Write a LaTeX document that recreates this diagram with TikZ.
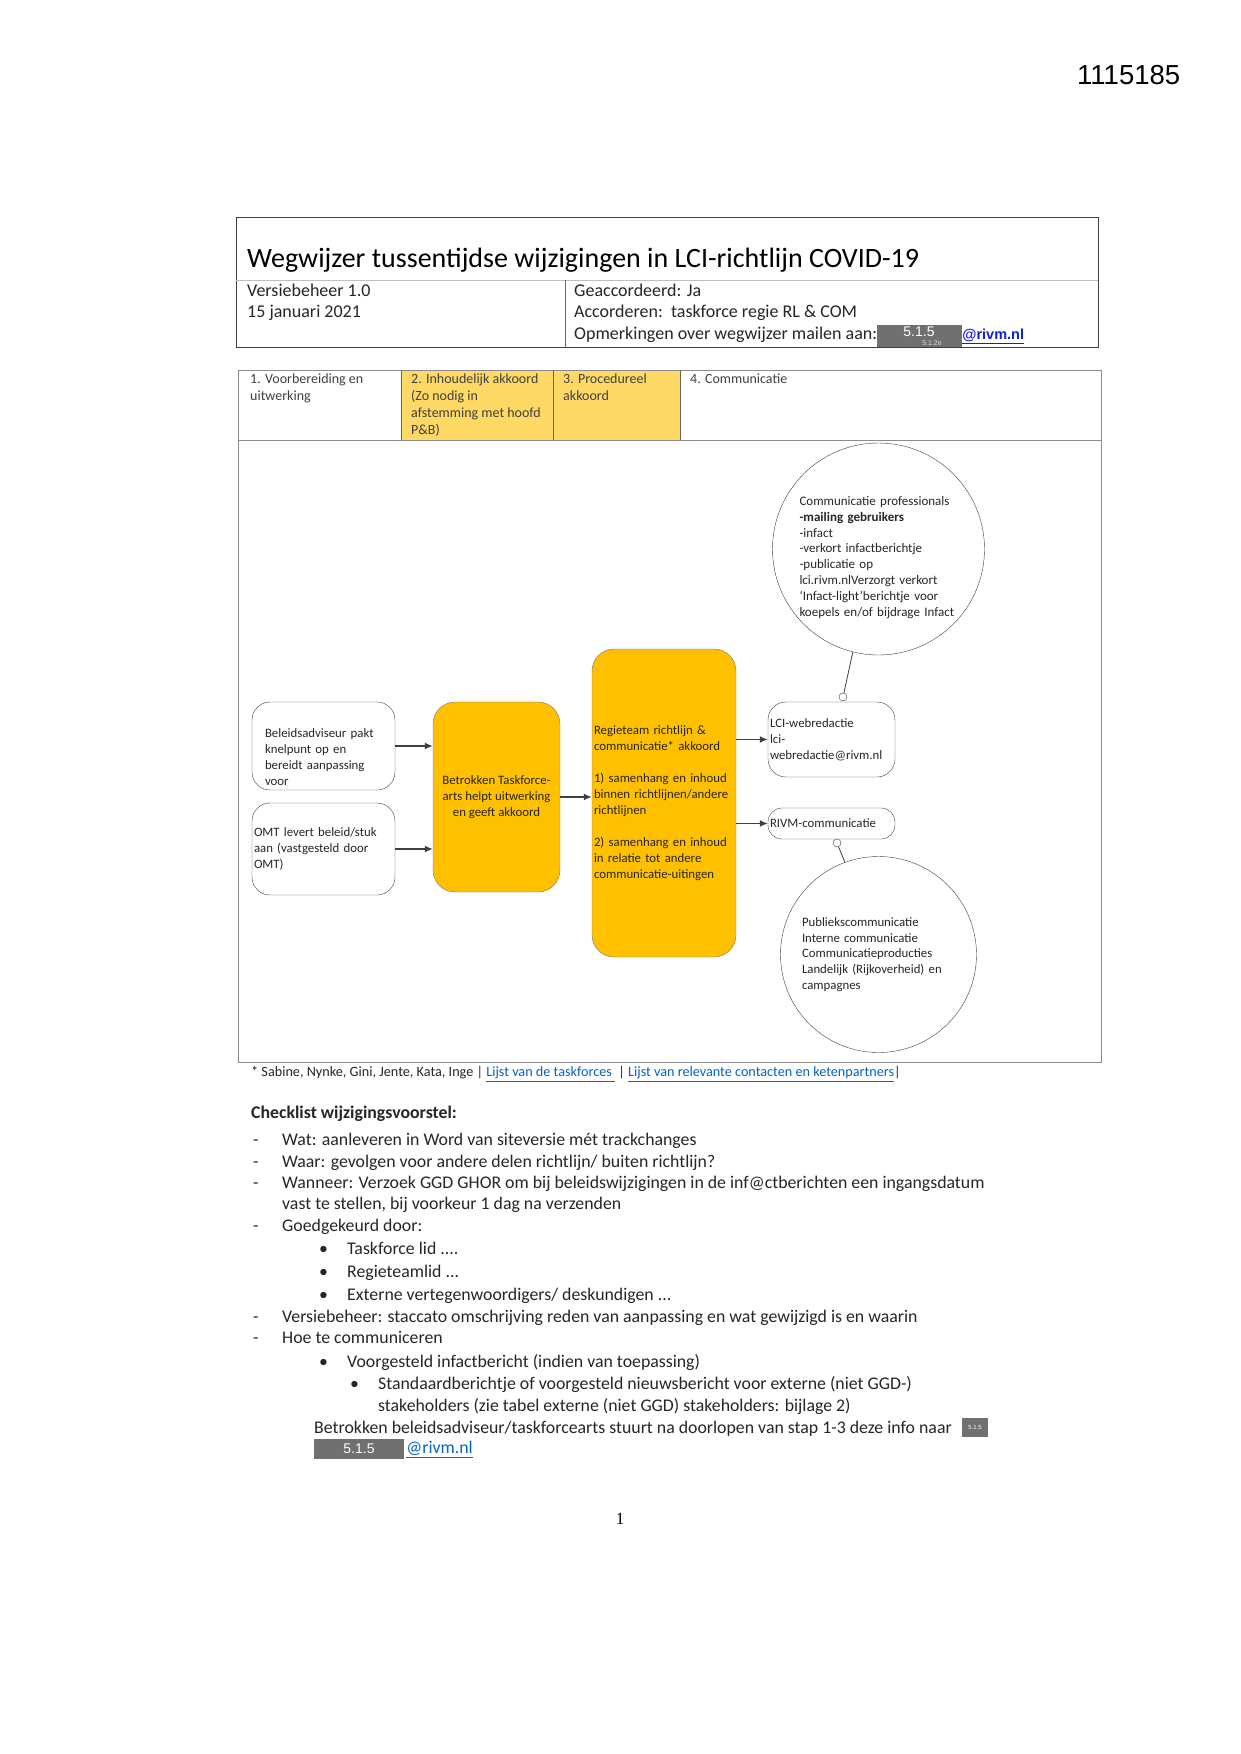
\documentclass[tikz,border=0pt]{standalone}
\usepackage{fontspec}
\setmainfont{Carlito}
\newfontfamily\arialfont{Liberation Sans}
\newfontfamily\paginafont{Liberation Serif}
\usepackage{tikz}
\usetikzlibrary{arrows.meta, positioning, calc}
\definecolor{kopgeel}{HTML}{FFD966}
\definecolor{stapgeel}{HTML}{FFC000}
\definecolor{lijngrijs}{HTML}{404040}
\definecolor{zwartgrijs}{HTML}{707070}
\definecolor{linkblauw}{HTML}{0563C1}
\definecolor{mailblauw}{HTML}{1020D0}

\begin{document}
\begin{tikzpicture}[x=1pt, y=-1pt,
    txt/.style={inner sep=0pt, anchor=west, align=left, text=black!85},
    kop/.style={txt, text height=1.1em, text depth=0.12em, font=\fontsize{18}{22}\selectfont},
    cel/.style={inner sep=0pt, anchor=north west, align=left, text=black!75, font=\fontsize{14}{17}\selectfont},
    lijst/.style={txt, text height=1.1em, text depth=0.12em, font=\fontsize{17.8}{22}\selectfont},
    wit/.style={draw=lijngrijs, rounded corners=18pt, fill=white, align=left, inner xsep=0pt, text=black!85, font=\fontsize{12.8}{16}\selectfont},
    geel/.style={draw=lijngrijs!70, rounded corners=22pt, fill=stapgeel, inner xsep=0pt, text=black!85, font=\fontsize{12.8}{16}\selectfont},
    bol/.style={draw=lijngrijs, circle, inner sep=0pt, align=left, text=black!85, font=\fontsize{13}{15.8}\selectfont},
    dot/.style={draw=lijngrijs, circle, fill=white, minimum size=8pt, inner sep=0pt},
    pijl/.style={-{Latex[length=8pt, width=7pt]}, line width=1.4pt, draw=lijngrijs},
    verbind/.style={line width=0.8pt, draw=lijngrijs},
    zwart/.style={fill=zwartgrijs, text=white, inner sep=0pt, font=\arialfont\fontsize{14}{16}\selectfont},
    link/.style={txt, text=linkblauw}
]
\path[use as bounding box, fill=white] (0,0) rectangle (1241,1754);

\node[txt, text=black, font=\arialfont\fontsize{27.5}{30}\selectfont] (docnr) at (1077,75) {1115185};

\draw[draw=lijngrijs, line width=1pt] (236,217) rectangle (1098,347);
\draw[draw=black!25] (236,280) -- (1098,280);
\draw[draw=lijngrijs!80] (565,280) -- (565,347);
\node[txt, text=black, font=\fontsize{28}{32}\selectfont] (titel) at (247,260) {Wegwijzer tussentijdse wijzigingen in LCI-richtlijn COVID-19};
\node[kop] (versie) at (247,292) {Versiebeheer 1.0};
\node[kop] (datum) at (247,313) {15 januari 2021};
\node[kop] (geacc) at (574,292) {Geaccordeerd: Ja};
\node[kop] (accord) at (574,313) {Accorderen:\ \ taskforce regie RL \& COM};
\node[kop] (opm) at (574,335) {Opmerkingen over wegwijzer mailen aan:};
\node[zwart, minimum width=85pt, minimum height=22pt] (zwart1) at (919.5,336) {};
\node[zwart, fill=none] (nr1) at (919,332) {5.1.5};
\node[zwart, fill=none, text=white!85!black, font=\arialfont\fontsize{7}{8}\selectfont] (nr1b) at (932,343) {5.1.2e};
\node[txt, right=0pt of zwart1, text=mailblauw, font=\arialfont\bfseries\fontsize{14.5}{16}\selectfont] (mail1) {\underline{@rivm.nl}};

\fill[kopgeel] (401,370) rectangle (680,440);
\draw[draw=black!45, line width=1pt] (238,370) rectangle (1101,1062);
\draw[draw=black!45] (238,440) -- (1101,440);
\foreach \x in {401,553,680} \draw[draw=lijngrijs!80] (\x,370) -- (\x,440);
\node[cel] (stap1) at (250,374) {1. Voorbereiding en\\uitwerking};
\node[cel] (stap2) at (411,374) {2. Inhoudelijk akkoord\\(Zo nodig in\\afstemming met hoofd\\P\&B)};
\node[cel] (stap3) at (563,374) {3. Procedureel\\akkoord};
\node[cel] (stap4) at (690,374) {4. Communicatie};

\node[wit, minimum width=143pt, minimum height=88pt, text width=117pt] (bel) at (323.5,746) {\rule{0pt}{31pt}Beleidsadviseur pakt\\knelpunt op en\\bereidt aanpassing\\voor};
\node[wit, minimum width=143pt, minimum height=92pt, text width=139pt] (omt) at (323.5,849) {OMT levert beleid/stuk\\aan (vastgesteld door\\OMT)};
\node[geel, minimum width=127pt, minimum height=190pt, align=center] (betr) at (496.5,797) {Betrokken Taskforce-\\arts helpt uitwerking\\en geeft akkoord};
\node[geel, minimum width=144pt, minimum height=308pt, text width=140pt, align=left] (regie) at (664,803) {Regieteam richtlijn \&\\communicatie* akkoord\\[16pt]1) samenhang en inhoud\\binnen richtlijnen/andere\\richtlijnen\\[16pt]2) samenhang en inhoud\\in relatie tot andere\\communicatie-uitingen};
\node[wit, minimum width=127pt, minimum height=75pt, text width=123pt] (lci) at (831.5,739.5) {LCI-webredactie\\lci-\\webredactie@rivm.nl};
\node[wit, rounded corners=14pt, minimum width=127pt, minimum height=31pt, text width=123pt] (rivm) at (831.5,823.5) {RIVM-communicatie};
\node[bol, minimum size=212pt, text width=158pt] (profs) at (878.5,549) {\rule{0pt}{26pt}Communicatie professionals\\\textbf{-mailing gebruikers}\\-infact\\-verkort infactberichtje\\-publicatie op\\lci.rivm.nlVerzorgt verkort\\‘Infact-light’berichtje voor\\koepels en/of bijdrage Infact};
\node[bol, minimum size=196pt, text width=153pt, font=\fontsize{12.8}{15.8}\selectfont] (publiek) at (878.5,954.5) {Publiekscommunicatie\\Interne communicatie\\Communicatieproducties\\Landelijk (Rijkoverheid) en\\campagnes};

\foreach \a/\b in {bel/betr, omt/betr, betr/regie}
  \draw[pijl] (\a.east) -- (\a.east -| \b.west);
\foreach \a/\b in {regie/lci, regie/rivm}
  \draw[pijl] (\b.west -| \a.east) -- (\b.west);

\node[dot] (lcidot) at (843,697) {};
\node[dot] (rivmdot) at (837,843) {};
\draw[verbind] (profs.256) -- (lcidot);
\draw[verbind] (rivmdot) -- (publiek.110);

\node[txt, font=\fontsize{14.2}{16}\selectfont] (voet) at (251,1074) {* Sabine, Nynke, Gini, Jente, Kata, Inge | \textcolor{linkblauw}{\underline{Lijst van de taskforces }} | \textcolor{linkblauw}{\underline{Lijst van relevante contacten en ketenpartners}}|};

\node[lijst, font=\bfseries\fontsize{17.8}{22}\selectfont] (check) at (251,1114) {Checklist wijzigingsvoorstel:};
\foreach \y in {1141,1163,1184,1227,1318,1339}
  \node[lijst] (streep\y) at (253,\y) {-};
\foreach \x/\y/\t [count=\i] in {
    282/1141/{Wat: aanleveren in Word van siteversie mét trackchanges},
    282/1163/{Waar: gevolgen voor andere delen richtlijn/ buiten richtlijn?},
    282/1184/{Wanneer: Verzoek GGD GHOR om bij beleidswijzigingen in de inf@ctberichten een ingangsdatum},
    282/1205/{vast te stellen, bij voorkeur 1 dag na verzenden},
    282/1227/{Goedgekeurd door:},
    347/1250/{Taskforce lid ....},
    347/1273/{Regieteamlid ...},
    347/1296/{Externe vertegenwoordigers/ deskundigen ...},
    282/1318/{Versiebeheer: staccato omschrijving reden van aanpassing en wat gewijzigd is en waarin},
    282/1339/{Hoe te communiceren},
    347/1363/{Voorgesteld infactbericht (indien van toepassing)},
    378/1385/{Standaardberichtje of voorgesteld nieuwsbericht voor externe (niet GGD-)},
    378/1407/{stakeholders (zie tabel externe (niet GGD) stakeholders: bijlage 2)},
    314/1429/{Betrokken beleidsadviseur/taskforcearts stuurt na doorlopen van stap 1-3 deze info naar}}
  \node[lijst] (regel\i) at (\x,\y) {\t};
\foreach \x/\y in {319/1250, 319/1273, 319/1296, 319/1363, 350/1385}
  \node[lijst] (bullet\x\y) at (\x,\y) {\textbullet};
\node[zwart, minimum width=26pt, minimum height=19pt, font=\arialfont\fontsize{6}{7}\selectfont] (zwart2) at (975,1427.5) {5.1.5};
\node[zwart, minimum width=90pt, minimum height=20pt] (zwart3) at (359,1449) {5.1.5};
\node[link, right=2pt of zwart3, text height=1.1em, text depth=0.12em, font=\fontsize{17.8}{22}\selectfont] (mail2) {\underline{@rivm.nl}};

\node[font=\paginafont\fontsize{17}{20}\selectfont] (paginanr) at (620,1519) {1};
\end{tikzpicture}
\end{document}
